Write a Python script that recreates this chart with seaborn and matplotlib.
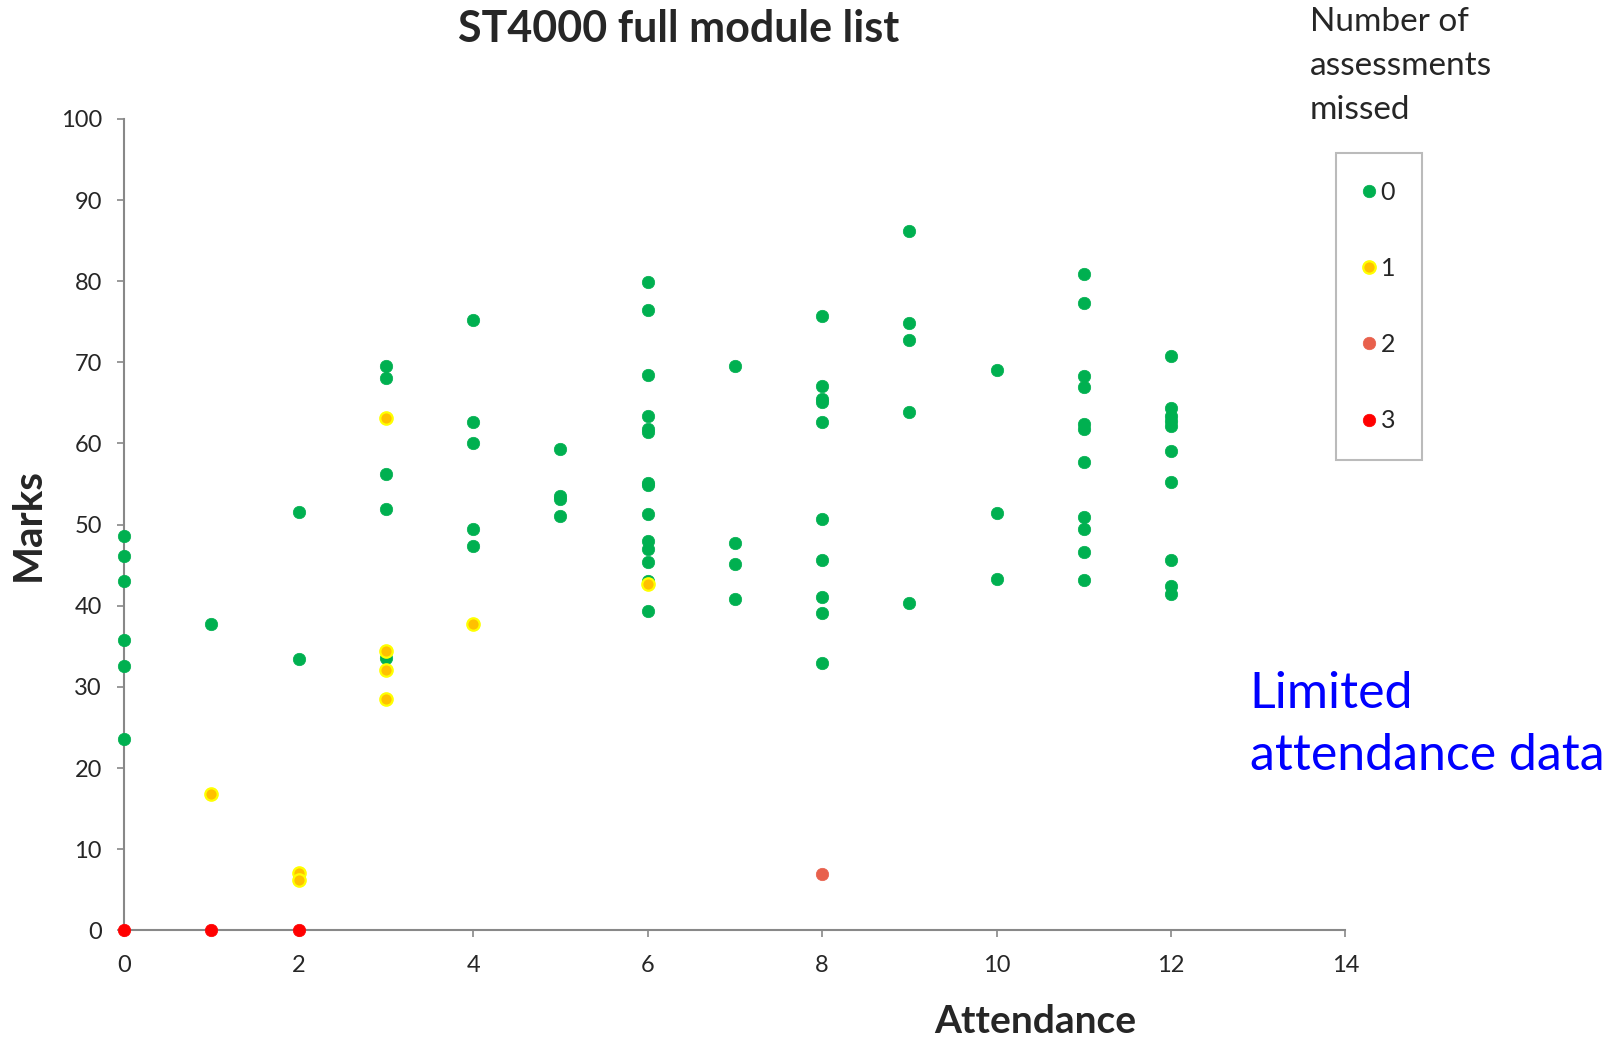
import matplotlib
matplotlib.use("Agg")
import matplotlib.pyplot as plt
import seaborn as sns
import pandas as pd
from matplotlib.lines import Line2D

# ---- data ----
attendance_missed0 = [0, 0, 0, 0, 0, 0,
                      1,
                      2, 2,
                      3, 3, 3, 3, 3,
                      4, 4, 4, 4, 4,
                      5, 5, 5, 5,
                      6, 6, 6, 6, 6, 6, 6, 6, 6, 6, 6, 6, 6, 6,
                      7, 7, 7, 7,
                      8, 8, 8, 8, 8, 8, 8, 8, 8, 8,
                      9, 9, 9, 9, 9,
                      10, 10, 10,
                      11, 11, 11, 11, 11, 11, 11, 11, 11, 11, 11,
                      12, 12, 12, 12, 12, 12, 12, 12, 12, 12]
marks_missed0 = [48.6, 46.1, 43.0, 35.8, 32.6, 23.6,
                 37.8,
                 51.6, 33.5,
                 69.6, 68.1, 56.2, 51.9, 33.6,
                 75.2, 62.6, 60.1, 49.4, 47.4,
                 59.3, 53.5, 53.1, 51.1,
                 79.9, 76.4, 68.5, 63.4, 61.8, 61.4, 55.1, 54.9, 51.3, 48.0, 47.0, 45.4, 43.0, 39.4,
                 69.6, 47.7, 45.1, 40.8,
                 75.7, 67.1, 65.5, 65.1, 62.7, 50.7, 45.7, 41.1, 39.1, 32.9,
                 86.2, 74.9, 72.8, 63.9, 40.4,
                 69.1, 51.4, 43.3,
                 80.9, 77.3, 68.3, 67.0, 62.4, 61.8, 57.7, 51.0, 49.5, 46.6, 43.2,
                 70.8, 64.4, 63.4, 62.8, 62.2, 59.1, 55.3, 45.7, 42.4, 41.4]

attendance_missed1 = [1, 2, 2, 3, 3, 3, 3, 4, 6]
marks_missed1 = [16.8, 7.1, 6.2, 63.1, 34.4, 32.1, 28.5, 37.8, 42.7]

attendance_missed2 = [8]
marks_missed2 = [7.0]

attendance_missed3 = [0, 1, 2]
marks_missed3 = [0, 0, 0]

legend_labels = ["0", "1", "2", "3"]
x_ticks = [0, 2, 4, 6, 8, 10, 12, 14]
y_ticks = [0, 10, 20, 30, 40, 50, 60, 70, 80, 90, 100]

# ---- styling ----
sns.set_theme(style="white")
plt.rcParams['font.family'] = ['Lato', 'DejaVu Sans']

fig = plt.figure(figsize=(16.23, 10.43), dpi=100)
ax = fig.add_axes([0.0765, 0.108, 0.7525, 0.778])

face = ["#00B050", "#FFC000", "#E8604C", "#FF0000"]
edge = ["#00B050", "#FFFF00", "#E8604C", "#FF0000"]
groups = [(attendance_missed0, marks_missed0),
          (attendance_missed1, marks_missed1),
          (attendance_missed2, marks_missed2),
          (attendance_missed3, marks_missed3)]

for i, (xs, ys) in enumerate(groups):
    df = pd.DataFrame({"Attendance": xs, "Marks": ys})
    sns.scatterplot(data=df, x="Attendance", y="Marks", ax=ax, s=80,
                    color=face[i], edgecolor=edge[i], linewidth=1.6 if i == 1 else 0.5,
                    clip_on=False, zorder=3 + i)

ax.set_xlim(0, 14)
ax.set_ylim(0, 100)
ax.set_xticks(x_ticks)
ax.set_yticks(y_ticks)
ax.tick_params(axis='both', labelsize=17, length=5, width=1.2, color="#888888",
               direction='out', bottom=True, left=True)
ax.tick_params(axis='x', pad=13)
ax.tick_params(axis='y', pad=11)
for side in ["top", "right"]:
    ax.spines[side].set_visible(False)
for side in ["left", "bottom"]:
    ax.spines[side].set_color("#888888")
    ax.spines[side].set_linewidth(1.5)
ax.set_xlabel("")
ax.set_ylabel("")

fig.text(0.418, 0.972, "ST4000 full module list", ha="center", va="center",
         fontsize=31, fontweight="bold")
fig.text(0.0172, 0.497, "Marks", rotation=90, ha="center", va="center",
         fontsize=29, fontweight="bold")
fig.text(0.638, 0.004, "Attendance", ha="center", va="bottom",
         fontsize=28, fontweight="bold")
fig.text(0.807, 0.993, "Number of\nassessments\nmissed", ha="left", va="top",
         fontsize=24, linespacing=1.58)
fig.text(0.770, 0.305, "Limited\nattendance data", ha="left", va="center",
         fontsize=36, color="#0000FF", linespacing=1.42)

handles = [Line2D([0], [0], marker='o', linestyle='none', markersize=9,
                  markerfacecolor=face[i], markeredgecolor=edge[i],
                  markeredgewidth=1.6 if i == 1 else 0.5)
           for i in range(4)]
leg = fig.legend(handles, legend_labels, loc="upper left",
                 bbox_to_anchor=(0.823, 0.853), frameon=True, fontsize=18,
                 labelspacing=2.13, borderpad=1.09, handletextpad=0.25,
                 handlelength=0.45, borderaxespad=0, fancybox=False)
leg.get_frame().set_edgecolor("#AAAAAA")
leg.get_frame().set_linewidth(1.5)

fig.savefig("out.png", dpi=100)
